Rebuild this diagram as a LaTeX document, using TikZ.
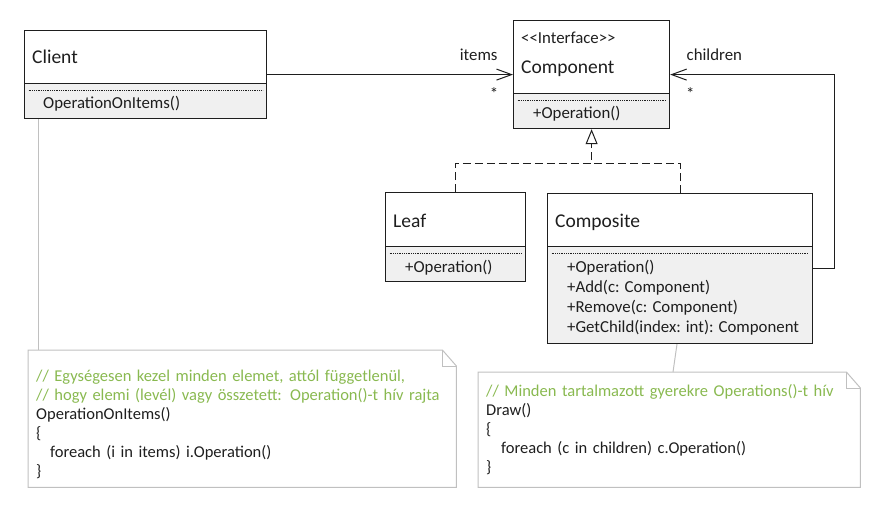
\documentclass[tikz,border=0pt]{standalone}
\usepackage{fontspec}
\setmainfont{Carlito}
\usetikzlibrary{arrows.meta,positioning,calc}

\definecolor{opgray}{RGB}{240,240,240}
\definecolor{notegray}{RGB}{192,192,192}
\definecolor{commentgreen}{RGB}{137,185,80}
\definecolor{inkblack}{RGB}{30,30,30}

\newcommand{\namefont}{\fontsize{19.5}{23}\selectfont}
\newcommand{\opfont}{\fontsize{16.8}{20}\selectfont}
\newcommand{\notefont}{\fontsize{16.5}{19}\selectfont}

\tikzset{
  classbox/.style={draw=inkblack, line width=1.2pt, anchor=north west, inner sep=0pt},
  opbox/.style={draw=inkblack, line width=1.2pt, fill=opgray, inner sep=0pt,
    path picture={\draw[densely dotted, line width=0.8pt] ([xshift=4pt,yshift=-7pt]path picture bounding box.north west) -- ([xshift=-4pt,yshift=-7pt]path picture bounding box.north east);}},
  nametext/.style={anchor=base west, inner sep=0pt, text=inkblack, font=\namefont},
  optext/.style={anchor=north west, inner sep=0pt, align=left, text=inkblack, font=\opfont},
  assoc/.style={draw=inkblack, line width=1pt, -{Straight Barb[length=15pt,width=11pt]}},
  realize/.style={draw=inkblack, line width=1pt, dash pattern=on 8pt off 4pt},
  rolelabel/.style={inner sep=0pt, text=inkblack, font=\opfont},
  notebox/.style={anchor=north west, align=left, inner xsep=8pt, inner ysep=0pt, text=inkblack, font=\notefont},
  noteframe/.style={draw=notegray, line width=1pt},
  noteline/.style={draw=notegray, line width=1pt},
}

\begin{document}
\begin{tikzpicture}[x=1pt, y=-1pt]
\useasboundingbox (0,0) rectangle (887,515);

% classes
\node[classbox, minimum width=242pt, minimum height=88pt] (client) at (24,30) {};
\node[opbox, minimum width=242pt, minimum height=35pt, anchor=south west] (clientops) at (client.south west) {};
\node[nametext] (clientname) at ([xshift=8pt,yshift=-33pt]client.north west) {Client};
\node[optext] (clientop) at ([xshift=19pt,yshift=-13.5pt]clientops.north west) {OperationOnItems()};

\node[classbox, minimum width=156pt, minimum height=108pt] (component) at (513,20) {};
\node[opbox, minimum width=156pt, minimum height=35pt, anchor=south west] (componentops) at (component.south west) {};
\node[nametext, font=\opfont] (stereo) at ([xshift=8pt,yshift=-23pt]component.north west) {<\kern0pt<Interface>\kern0pt>};
\node[nametext] (componentname) at ([xshift=8pt,yshift=-53pt]component.north west) {Component};
\node[optext] (componentop) at ([xshift=20pt,yshift=-13.5pt]componentops.north west) {+Operation()};

\node[classbox, minimum width=140pt, minimum height=89pt] (leaf) at (385,192) {};
\node[opbox, minimum width=140pt, minimum height=35pt, anchor=south west] (leafops) at (leaf.south west) {};
\node[nametext] (leafname) at ([xshift=8pt,yshift=-35pt]leaf.north west) {Leaf};
\node[optext] (leafop) at ([xshift=20pt,yshift=-14pt]leafops.north west) {+Operation()};

\node[classbox, minimum width=265pt, minimum height=150pt] (composite) at (547,193) {};
\node[opbox, minimum width=265pt, minimum height=97pt, anchor=south west] (compositeops) at (composite.south west) {};
\node[nametext] (compositename) at ([xshift=8pt,yshift=-34pt]composite.north west) {Composite};
\node[optext] (compositeop) at ([xshift=20pt,yshift=-14pt]compositeops.north west)
  {+Operation()\\+Add(c: Component)\\+Remove(c: Component)\\+GetChild(index: int): Component};

% associations
\draw[assoc] (client) -- (component)
  node[rolelabel, pos=1, anchor=base east, xshift=-15pt, yshift=14pt] (itemslabel) {items}
  node[rolelabel, pos=1, xshift=-19pt, yshift=-19pt] (itemsmult) {*};
\draw[assoc] (composite.east) -- ++(21pt,0) |- (component.east)
  node[rolelabel, pos=1, anchor=base west, xshift=16pt, yshift=14pt] (childrenlabel) {children}
  node[rolelabel, pos=1, xshift=20pt, yshift=-19pt] (childrenmult) {*};

% realization
\coordinate (split) at ([yshift=-34pt]component.south);
\draw[realize, -{Triangle[open, length=15pt, width=12pt]}] (leaf.north) |- (split) -- (component.south);
\draw[realize] (composite.north) |- (split);

% notes
\node[notebox, text width=412pt, minimum height=137pt] (clientnote) at (28,350)
  {\rule{0pt}{22pt}{\color{commentgreen}// Egységesen kezel minden elemet, attól függetlenül,}\\
   {\color{commentgreen}// hogy elemi (levél) vagy összetett: Operation()-t hív rajta}\\
   OperationOnItems()\\
   \{\\
   \hspace*{14pt}foreach (i in items) i.Operation()\\
   \}};
\node[notebox, text width=366pt, minimum height=115pt] (compositenote) at (478,372)
  {{\color{commentgreen}// Minden tartalmazott gyerekre Operations()-t hív}\\
   Draw()\\
   \{\\
   \hspace*{15pt}foreach (c in children) c.Operation()\\
   \}};
\foreach \n in {clientnote,compositenote} {
  \draw[noteframe] (\n.north west) -- ([xshift=-14pt]\n.north east) -- ([yshift=-16pt]\n.north east)
    -- (\n.south east) -- (\n.south west) -- cycle;
  \draw[noteframe] ([xshift=-14pt]\n.north east) |- ([yshift=-16pt]\n.north east);
}
\draw[noteline] ([xshift=14pt]client.south west) -- ([xshift=10pt]clientnote.north west);
\draw[noteline] ([xshift=130pt]composite.south west) -- ([xshift=195pt]compositenote.north west);
\end{tikzpicture}
\end{document}
